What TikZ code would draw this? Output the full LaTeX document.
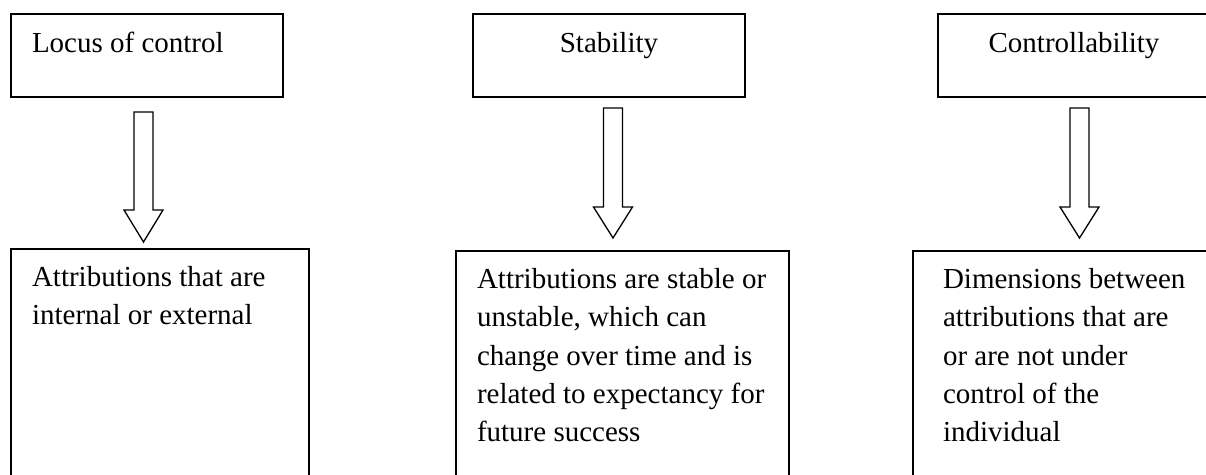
\documentclass[tikz,border=0pt]{standalone}
\usepackage{fontspec}
\setmainfont{Liberation Serif}
\newcommand{\dnarrow}[4]{% cx, top, head base, tip
  \draw[blockarrow] ({#1-9.5},#2) -- ({#1+9.5},#2) -- ({#1+9.5},#3) -- ({#1+19.5},#3)
    -- (#1,#4) -- ({#1-19.5},#3) -- ({#1-9.5},#3) -- cycle;}
\begin{document}
\begin{tikzpicture}[x=1pt,y=-1pt,
  box/.style={draw, line width=1.8pt, inner sep=0pt, outer sep=0pt, anchor=north west},
  lbl/.style={font=\fontsize{29}{38.3}\selectfont, inner sep=0pt, outer sep=0pt, align=left},
  blockarrow/.style={draw, line width=1.3pt, fill=white, line join=miter}]
\useasboundingbox (0,0) rectangle (1206,474);
\clip (0,0) rectangle (1206,474);
% top boxes
\node[box, minimum width=272pt, minimum height=83pt] (t1) at (11,14) {};
\node[box, minimum width=272pt, minimum height=83pt] (t2) at (473,14) {};
\node[box, minimum width=272pt, minimum height=83pt] (t3) at (938,14) {};
\node[lbl, anchor=base west] (t1l) at (32,52) {Locus of control};
\node[lbl, anchor=base] (t2l) at (609,52) {Stability};
\node[lbl, anchor=base] (t3l) at (1074,52) {Controllability};
% bottom boxes
\node[box, minimum width=298pt, minimum height=280pt] (b1) at (11,249) {};
\node[box, minimum width=333pt, minimum height=280pt] (b2) at (456,251) {};
\node[box, minimum width=333pt, minimum height=280pt] (b3) at (913,251) {};
\node[lbl, anchor=north west] (b1l) at (32,266.5) {Attributions that are\\internal or external};
\node[lbl, anchor=north west] (b2l) at (477,268.5) {Attributions are stable or\\unstable, which can\\change over time and is\\related to expectancy for\\future success};
\node[lbl, anchor=north west] (b3l) at (943,268.5) {Dimensions between\\attributions that are\\or are not under\\control of the\\individual};
% arrows
\dnarrow{143.5}{112}{210}{242}
\dnarrow{613}{108}{207}{238}
\dnarrow{1079.5}{108}{207}{238}
\end{tikzpicture}
\end{document}
